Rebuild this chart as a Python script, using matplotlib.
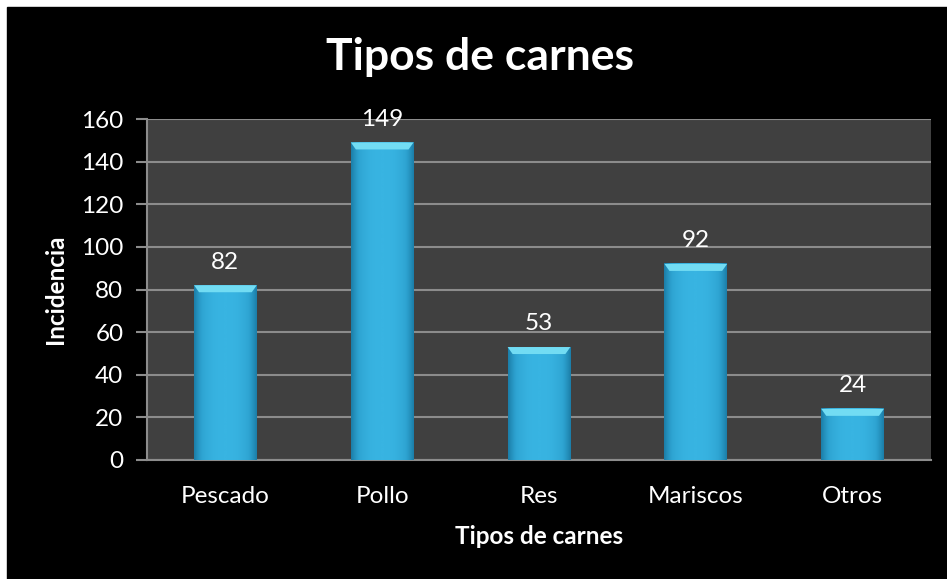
import matplotlib

matplotlib.use("Agg")
import matplotlib.pyplot as plt
import numpy as np
from matplotlib.patches import Rectangle, Polygon

categories = ["Pescado", "Pollo", "Res", "Mariscos", "Otros"]
values = [82, 149, 53, 92, 24]
y_ticks = [0, 20, 40, 60, 80, 100, 120, 140, 160]

plt.rcParams["font.family"] = ["Lato", "DejaVu Sans"]

W, H = 947, 579
fig = plt.figure(figsize=(W / 100, H / 100), dpi=100, facecolor="white")
# black chart area, small white margin top and left
fig.patches.append(Rectangle((7 / W, 0), 1 - 7 / W, 1 - 7 / H,
                             transform=fig.transFigure, color="black", zorder=-5))

ax = fig.add_axes([147 / W, 1 - 460 / H, (931 - 147) / W, (460 - 119) / H])
ax.set_facecolor("#404040")

x = np.arange(len(categories))
bars = ax.bar(x, values, width=0.40, color="#2ea6d6", zorder=3)

# horizontal gradient + bevelled top on each bar
grad = np.abs(np.linspace(-1, 1, 64)) ** 2.5
grad = np.vstack([grad, grad])
cmap = matplotlib.colors.LinearSegmentedColormap.from_list(
    "bar", ["#38b4e2", "#2ea4d2", "#1c7fa9"])
cap = 160 / 341 * 7  # ~7 px bevel
for bar in bars:
    x0, w, h = bar.get_x(), bar.get_width(), bar.get_height()
    ax.imshow(grad, extent=(x0, x0 + w, 0, h), aspect="auto", cmap=cmap,
              zorder=4, interpolation="bicubic")
    dx = w * 0.08
    ax.add_patch(Polygon([(x0, h), (x0 + w, h), (x0 + w - dx, h - cap),
                          (x0 + dx, h - cap)], closed=True,
                         facecolor="#72dcf3", edgecolor="none", zorder=5))
    ax.annotate(f"{h:g}", (x0 + w / 2, h), xytext=(0, 12), textcoords="offset points",
                ha="center", va="baseline", color="white", fontsize=17.5,
                zorder=6, annotation_clip=False)

ax.set_xlim(-0.5, len(categories) - 0.5)
ax.set_ylim(0, 160)
ax.set_yticks(y_ticks)
ax.set_xticks(x)
ax.set_xticklabels(categories)
ax.grid(axis="y", color="#8c8c8c", linewidth=1.5, zorder=1)
ax.set_axisbelow(True)
ax.tick_params(axis="y", colors="#8c8c8c", length=8, width=1.5, labelcolor="white",
               labelsize=17.5, pad=9)
ax.tick_params(axis="x", length=0, labelcolor="white", labelsize=17.5, pad=19)
for side in ["top", "right"]:
    ax.spines[side].set_visible(False)
for side in ["left", "bottom"]:
    ax.spines[side].set_color("#8c8c8c")
    ax.spines[side].set_linewidth(1.5)

ax.set_ylabel("Incidencia", color="white", fontsize=17.5, fontweight="bold", labelpad=10)
ax.set_xlabel("Tipos de carnes", color="white", fontsize=17.5, fontweight="bold", labelpad=13)
fig.text(480 / W, 1 - 57 / H, "Tipos de carnes", ha="center", va="center",
         color="white", fontsize=32, fontweight="bold")

fig.savefig("out.png", dpi=100, facecolor=fig.get_facecolor())
